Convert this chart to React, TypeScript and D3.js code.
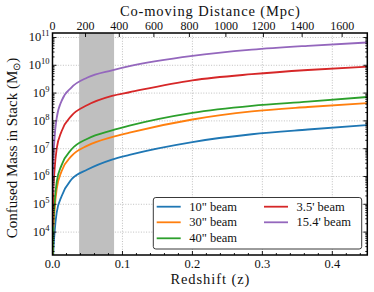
import React from 'react';
import * as d3 from 'd3';

// redshift samples and log10 of the confused mass for each beam
const redshifts = [0.0003, 0.001, 0.003, 0.006, 0.013, 0.027, 0.05, 0.085, 0.11, 0.2, 0.285, 0.365, 0.45];
const beam10 = [2.0, 3.1, 4.0, 4.7, 5.29, 5.89, 6.25, 6.61, 6.78, 7.24, 7.52, 7.69, 7.85];
const beam30 = [2.8, 3.9, 4.8, 5.55, 6.19, 6.73, 7.11, 7.42, 7.58, 8.05, 8.34, 8.5, 8.64];
const beam40 = [3.0, 4.1, 5.05, 5.8, 6.41, 6.97, 7.36, 7.66, 7.83, 8.29, 8.54, 8.69, 8.86];
const beam210 = [4.2, 5.3, 6.25, 7.0, 7.63, 8.18, 8.57, 8.9, 9.03, 9.46, 9.68, 9.83, 9.95];
const beam924 = [5.4, 6.45, 7.4, 8.1, 8.72, 9.2, 9.56, 9.82, 9.97, 10.34, 10.56, 10.7, 10.82];

const seriesNames = ['10" beam', '30" beam', '40" beam', "3.5' beam", "15.4' beam"];
const seriesColors = ['#1f77b4', '#ff7f0e', '#2ca02c', '#d62728', '#9467bd'];
const seriesValues = [beam10, beam30, beam40, beam210, beam924];

const zTicks = [0, 0.1, 0.2, 0.3, 0.4];
const distTicks = [0, 200, 400, 600, 800, 1000, 1200, 1400, 1600];
const decades = [4, 5, 6, 7, 8, 9, 10, 11];
const shadedZ = [0.038, 0.088];

const W = 374;
const H = 292;
const M = { left: 52.5, right: 367.3, top: 33, bottom: 255 };
const FONT = "'Liberation Serif', 'Times New Roman', serif";

// comoving distance (H0=70, Om=0.3) lookup for the top axis
const H0 = 70;
const Om = 0.3;
const zGrid = d3.range(0, 0.5001, 0.001);
const dcGrid: number[] = [];
{
  let acc = 0;
  zGrid.forEach((z, i) => {
    if (i > 0) {
      const zm = z - 0.0005;
      acc += 0.001 / Math.sqrt(Om * Math.pow(1 + zm, 3) + 1 - Om);
    }
    dcGrid.push((299792.458 / H0) * acc);
  });
}
const dcToZ = d3.scaleLinear().domain(dcGrid).range(zGrid);

export default function App() {
  const x = d3.scaleLinear().domain([0, 0.45]).range([M.left, M.right]);
  const y = d3.scaleLog().domain([1.5e3, 1.45e11]).range([M.bottom, M.top]);

  const line = d3
    .line<[number, number]>()
    .x((d) => x(d[0]))
    .y((d) => y(Math.pow(10, d[1])))
    .curve(d3.curveMonotoneX);

  const minorX = d3.range(0.02, 0.45, 0.02).filter((v) => Math.abs(v * 10 - Math.round(v * 10)) > 1e-6);
  const minorY: number[] = [];
  for (let e = 3; e <= 11; e++) {
    for (let s = 2; s <= 9; s++) {
      const v = s * Math.pow(10, e);
      if (v >= 1.5e3 && v <= 1.45e11) minorY.push(v);
    }
  }

  const legendRows = [
    [0, 156.7, 206.7],
    [1, 156.7, 222.3],
    [2, 156.7, 238.3],
    [3, 264, 206.7],
    [4, 264, 222.3],
  ];

  return (
    <svg width={W} height={H} style={{ position: 'absolute', left: 0, top: 0, fontFamily: FONT }}>
      <defs>
        <clipPath id="plot">
          <rect x={M.left} y={M.top} width={M.right - M.left} height={M.bottom - M.top} />
        </clipPath>
      </defs>
      <rect x={0} y={0} width={W} height={H} fill="#fff" />

      {/* grid */}
      <g stroke="#b0b0b0" strokeWidth={0.8} strokeDasharray="1,1.6">
        {zTicks.slice(1).map((t) => (
          <line key={'gx' + t} x1={x(t)} x2={x(t)} y1={M.top} y2={M.bottom} />
        ))}
        {decades.map((e) => (
          <line key={'gy' + e} x1={M.left} x2={M.right} y1={y(Math.pow(10, e))} y2={y(Math.pow(10, e))} />
        ))}
      </g>

      {/* shaded redshift range */}
      <rect
        x={x(shadedZ[0])}
        y={M.top}
        width={x(shadedZ[1]) - x(shadedZ[0])}
        height={M.bottom - M.top}
        fill="#bfbfbf"
      />

      <g clipPath="url(#plot)">
        {seriesValues.map((vals, i) => (
          <path
            key={seriesNames[i]}
            d={line(redshifts.map((z, j) => [z, vals[j]]) as [number, number][]) as string}
            fill="none"
            stroke={seriesColors[i]}
            strokeWidth={1.8}
          />
        ))}
      </g>

      {/* ticks */}
      <g stroke="#000" strokeWidth={0.9}>
        {zTicks.map((t) => (
          <line key={'tx' + t} x1={x(t)} x2={x(t)} y1={M.bottom} y2={M.bottom - 4} />
        ))}
        {minorX.map((t) => (
          <line key={'mx' + t} x1={x(t)} x2={x(t)} y1={M.bottom} y2={M.bottom - 2} />
        ))}
        {distTicks.map((d) => (
          <line key={'td' + d} x1={x(dcToZ(d))} x2={x(dcToZ(d))} y1={M.top} y2={M.top + 4} />
        ))}
        {decades.map((e) => (
          <g key={'ty' + e}>
            <line x1={M.left} x2={M.left + 4} y1={y(Math.pow(10, e))} y2={y(Math.pow(10, e))} />
            <line x1={M.right} x2={M.right - 4} y1={y(Math.pow(10, e))} y2={y(Math.pow(10, e))} />
          </g>
        ))}
        {minorY.map((v) => (
          <g key={'my' + v}>
            <line x1={M.left} x2={M.left + 2} y1={y(v)} y2={y(v)} />
            <line x1={M.right} x2={M.right - 2} y1={y(v)} y2={y(v)} />
          </g>
        ))}
      </g>

      {/* frame */}
      <rect
        x={M.left}
        y={M.top}
        width={M.right - M.left}
        height={M.bottom - M.top}
        fill="none"
        stroke="#000"
        strokeWidth={1.5}
      />

      {/* tick labels */}
      <g fontSize={12.5} fill="#111">
        {zTicks.map((t) => (
          <text key={'lx' + t} x={x(t)} y={267.5} textAnchor="middle">
            {t.toFixed(1)}
          </text>
        ))}
        {distTicks.map((d) => (
          <text key={'ld' + d} x={x(dcToZ(d))} y={29.5} fontSize={12} textAnchor="middle">
            {d}
          </text>
        ))}
        {decades.map((e) => (
          <text key={'ly' + e} x={49.5} y={y(Math.pow(10, e)) + 4} textAnchor="end">
            10
            <tspan fontSize={8.5} dy={-5}>
              {e}
            </tspan>
          </text>
        ))}
      </g>

      {/* axis titles */}
      <g fontSize={14.5} fill="#111">
        <text x={(M.left + M.right) / 2} y={283.5} textAnchor="middle" textLength={79} lengthAdjust="spacing">
          Redshift (z)
        </text>
        <text x={(M.left + M.right) / 2} y={15.5} textAnchor="middle" textLength={180} lengthAdjust="spacing">
          Co-moving Distance (Mpc)
        </text>
        <text
          transform={`translate(17,${(M.top + M.bottom) / 2 + 4}) rotate(-90)`}
          textAnchor="middle"
          fontSize={15}
        >
          Confused Mass in Stack (M
          <tspan fontSize={10} dy={3}>
            ⊙
          </tspan>
          <tspan dy={-3}>)</tspan>
        </text>
      </g>

      {/* legend */}
      <rect x={153.3} y={197.5} width={208.4} height={51.5} rx={2.5} fill="#fff" stroke="#222" strokeWidth={0.9} />
      <g fontSize={12.5} fill="#111">
        {legendRows.map(([i, lx, ly]) => (
          <g key={'lg' + i}>
            <line x1={lx} x2={lx + 24} y1={ly} y2={ly} stroke={seriesColors[i]} strokeWidth={1.8} />
            <text x={lx + 32.6} y={ly + 4}>
              {seriesNames[i]}
            </text>
          </g>
        ))}
      </g>
    </svg>
  );
}
